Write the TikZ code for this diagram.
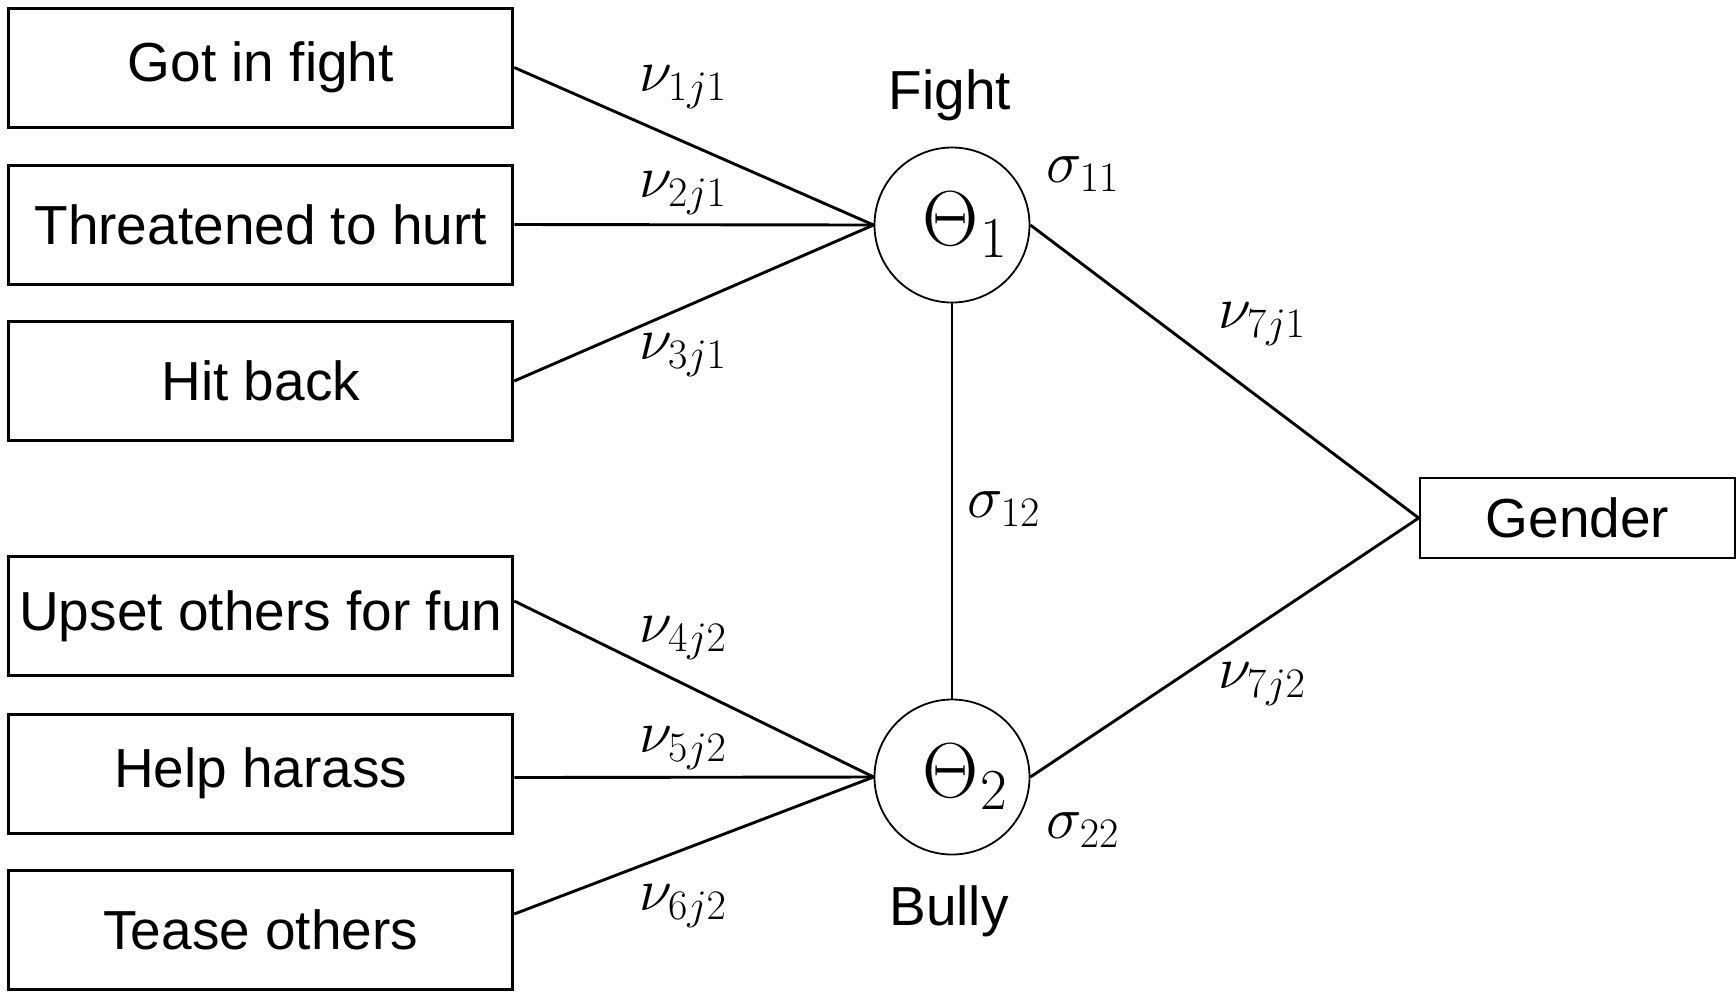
\RequirePackage{fix-cm}
\documentclass[tikz,border=0pt]{standalone}
\usepackage{fontspec}
\setmainfont{Liberation Sans}
\DeclareMathSizes{39}{39}{29}{22}
\begin{document}
\begin{tikzpicture}[x=0.5pt,y=-0.5pt,
  itembox/.style={draw, line width=1.5pt, minimum width=252pt, minimum height=59.5pt, inner sep=0pt, font=\fontsize{27.5}{30}\selectfont},
  latent/.style={draw, circle, line width=0.9pt, minimum size=77.5pt, inner sep=0pt, font=\fontsize{39}{42}\selectfont},
  conn/.style={line width=1.45pt},
  lbl/.style={inner sep=0pt, font=\fontsize{27.5}{30}\selectfont},
  mlbl/.style={inner sep=0pt, font=\fontsize{30}{32}\selectfont}]
\useasboundingbox (0,0) rectangle (1736,993);
\node[itembox] (b1) at (260.75,67.5) {Got in fight};
\node[itembox] (b2) at (260.75,224.5) {Threatened to hurt};
\node[itembox] (b3) at (260.75,381) {Hit back};
\node[itembox] (b4) at (260.75,616) {Upset others for fun};
\node[itembox] (b5) at (260.75,773.5) {Help harass};
\node[itembox] (b6) at (260.75,930) {Tease others};
\node[latent] (t1) at (952,225) {\hspace*{13pt}$\Theta_{\kern1pt 1}$};
\node[latent] (t2) at (952,777) {\hspace*{13pt}$\Theta_{\kern1pt 2}$};
\node[itembox, line width=1.3pt, minimum width=157.5pt, minimum height=40pt] (g) at (1577.5,518) {Gender};
\draw[conn] (b1.east) -- (t1.west);
\draw[conn] (b2.east) -- (t1.west);
\draw[conn] (b3.east) -- (t1.west);
\draw[conn] ([yshift=7.5pt]b4.east) -- (t2.west);
\draw[conn] ([yshift=-2pt]b5.east) -- (t2.west);
\draw[conn] ([yshift=8pt]b6.east) -- (t2.west);
\draw[conn] (t1.south) -- (t2.north);
\draw[conn] (t1.east) -- (g.west);
\draw[conn] (t2.east) -- (g.west);
\node[lbl] (fight) at (950,95) {Fight};
\node[lbl] (bully) at (949,911) {Bully};
\node[mlbl] (s11) at (1083,174) {$\sigma_{11}$};
\node[mlbl] (s22) at (1083,830) {$\sigma_{22}$};
\node[mlbl] (s12) at (1004,509) {$\sigma_{12}$};
\node[mlbl] (n1) at (683,87) {$\nu_{1j1}$};
\node[mlbl] (n2) at (683,193) {$\nu_{2j1}$};
\node[mlbl] (n3) at (683,355) {$\nu_{3j1}$};
\node[mlbl] (n4) at (683,638) {$\nu_{4j2}$};
\node[mlbl] (n5) at (683,748) {$\nu_{5j2}$};
\node[mlbl] (n6) at (683,906) {$\nu_{6j2}$};
\node[mlbl] (n7) at (1262,324) {$\nu_{7j1}$};
\node[mlbl] (n8) at (1262,684) {$\nu_{7j2}$};
\end{tikzpicture}
\end{document}
